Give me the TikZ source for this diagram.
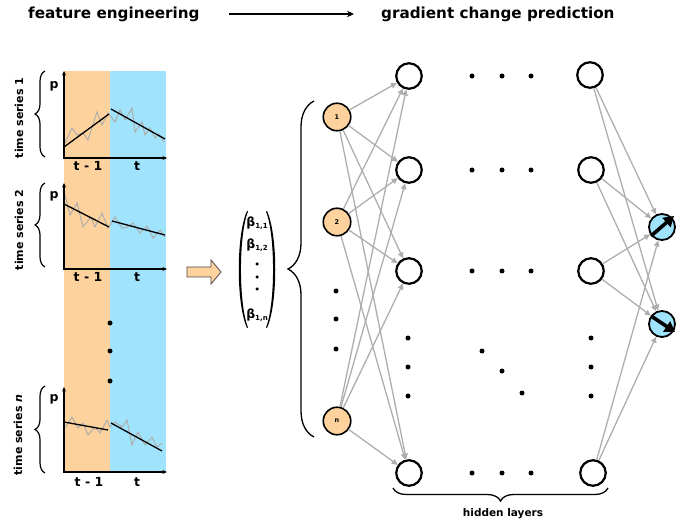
\documentclass[tikz,border=0pt]{standalone}
\usepackage{fontspec}
\setmainfont{DejaVu Sans}
\usetikzlibrary{arrows.meta,decorations.pathreplacing,calc}
\definecolor{bandorange}{HTML}{FDD29C}
\definecolor{bandblue}{HTML}{9FE3FC}
\definecolor{edgegray}{HTML}{AEAEAE}
\begin{document}
\begin{tikzpicture}[x=1pt,y=-1pt,
  every node/.style={font=\bfseries},
  inp/.style={circle,draw,line width=1.6pt,fill=bandorange,minimum size=27.5pt,inner sep=0pt,font=\bfseries\fontsize{6.5}{7}\selectfont},
  hid/.style={circle,draw,line width=2.2pt,fill=white,minimum size=25.5pt,inner sep=0pt},
  outn/.style={circle,draw,line width=1.8pt,fill=bandblue,minimum size=26pt,inner sep=0pt},
  edge/.style={draw=edgegray,line width=1.3pt,-{Triangle[length=6pt,width=5.5pt]}},
  axis/.style={line width=1.2pt,{Stealth[length=4.5pt,width=4pt]}-{Stealth[length=4.5pt,width=4pt]}},
  fitline/.style={line width=1.3pt},
  noise/.style={draw=edgegray,line width=1pt},
  bigdot/.style={circle,fill=black,inner sep=0pt,minimum size=5pt},
  tsbrace/.style={decorate,decoration={brace,amplitude=10pt},line width=1.2pt},
  tslabel/.style={rotate=90,font=\bfseries\fontsize{11}{13}\selectfont},
  plabel/.style={font=\bfseries\fontsize{12.5}{14}\selectfont},
  tlabel/.style={font=\bfseries\fontsize{12.5}{14}\selectfont},
  title/.style={anchor=west,inner sep=0pt,font=\bfseries\fontsize{15.2}{18}\selectfont},
  beta/.style={font=\bfseries\fontsize{12.5}{14}\selectfont},
]
\useasboundingbox (0,0) rectangle (688,521);
\newcommand{\bsub}[1]{\raisebox{-0.25ex}{\fontsize{7}{8}\selectfont #1}}

% titles
\node[title] (t1) at (28,14) {feature engineering};
\node[title] (t2) at (381,14) {gradient change prediction};
\draw[line width=1.4pt,-{Stealth[length=7pt,width=6.5pt]}] ([xshift=29pt]t1.east) -- ([xshift=-27pt]t2.west);

% bands
\fill[bandorange] (64,71) rectangle (110,472);
\fill[bandblue] (110,71) rectangle (166,472);

% series 1
\draw[noise] (65,143) -- (72,128) -- (77,135) -- (83,133) -- (88,140) -- (97,112) -- (102,125) -- (108,113) -- (115,122) -- (120,110) -- (125,120) -- (132,108) -- (135,132) -- (142,122) -- (145,135) -- (150,128) -- (155,138) -- (159,134) -- (164,142);
\draw[fitline] (64,147) -- (109,114);
\draw[fitline] (111,109) -- (165,139);
\draw[axis] (64,71) -- (64,158) -- (167,158);
\node[plabel] (p1) at (54,86) {p};
\node[tlabel] (a1l) at (88,166) {t - 1};
\node[tlabel] (a1r) at (137,166) {t};
\draw[tsbrace] (45,157) -- (45,71);
\node[tslabel] (ts1) at (19,118) {time series 1};

% series 2
\draw[noise] (65,195) -- (70,215) -- (77,203) -- (83,227) -- (91,217) -- (95,227) -- (102,213) -- (108,228) -- (115,217) -- (122,228) -- (128,227) -- (133,223) -- (140,233) -- (147,226) -- (153,238) -- (160,230) -- (165,237);
\draw[fitline] (64,204) -- (109,227);
\draw[fitline] (112,221) -- (165,235);
\draw[axis] (64,183) -- (64,269) -- (167,269);
\node[plabel] (p2) at (54,196) {p};
\node[tlabel] (a2l) at (88,277) {t - 1};
\node[tlabel] (a2r) at (137,277) {t};
\draw[tsbrace] (45,267) -- (45,183);
\node[tslabel] (ts2) at (19,230) {time series 2};

% dots between series
\node[bigdot] (ld1) at (110,323) {};
\node[bigdot] (ld2) at (110,351) {};
\node[bigdot] (ld3) at (110,381) {};

% series n
\draw[noise] (65,428) -- (72,417) -- (78,428) -- (83,423) -- (88,435) -- (95,427) -- (100,433) -- (107,420) -- (110,427) -- (115,422) -- (122,427) -- (127,420) -- (132,445) -- (138,432) -- (145,445) -- (152,437) -- (157,447) -- (162,443);
\draw[fitline] (64,422) -- (108,430);
\draw[fitline] (111,423) -- (162,451);
\draw[axis] (64,387) -- (64,472) -- (167,472);
\node[plabel] (pn) at (54,399) {p};
\node[tlabel] (anl) at (89,482) {t - 1};
\node[tlabel] (anr) at (137,482) {t};
\draw[tsbrace] (45,473) -- (45,386);
\node[tslabel] (tsn) at (18,435) {time series \textit{n}};

% block arrow
\draw[fill=bandorange,draw=black!70,line width=0.8pt] (187,267) -- (211,267) -- (211,260) -- (221,272) -- (211,284) -- (211,277) -- (187,277) -- cycle;

% vector
\node[beta] (b11) at (257,223) {β\bsub{1,1}};
\node[beta] (b12) at (257,245) {β\bsub{1,2}};
\node[bigdot,minimum size=3.5pt] (vd1) at (257,264) {};
\node[bigdot,minimum size=3.5pt] (vd2) at (257,277) {};
\node[bigdot,minimum size=3.5pt] (vd3) at (257,289) {};
\node[beta] (b1n) at (257,315) {β\bsub{1,n}};
\fill (247,211) .. controls (236,235) and (236,304) .. (247,328) -- (248,327.5) .. controls (238.6,304) and (238.6,235) .. (248,211.5) -- cycle;
\fill (267,211) .. controls (278,235) and (278,304) .. (267,328) -- (266,327.5) .. controls (275.4,304) and (275.4,235) .. (266,211.5) -- cycle;

% big brace
\draw[decorate,decoration={brace,amplitude=26pt},line width=1.3pt] (314,437) -- (314,101);

% input nodes
\node[inp] (i1) at (337,117) {1};
\node[inp] (i2) at (337,222) {2};
\node[inp] (in) at (337,421) {n};
\node[bigdot] (id1) at (336,291) {};
\node[bigdot] (id2) at (336,319) {};
\node[bigdot] (id3) at (336,349) {};

% hidden layer nodes
\node[hid] (a1) at (409,76) {};
\node[hid] (a2) at (409,170) {};
\node[hid] (a3) at (409,271) {};
\node[hid] (a4) at (409,473) {};
\node[hid] (b1) at (590,75) {};
\node[hid] (b2) at (591,170) {};
\node[hid] (b3) at (591,271) {};
\node[hid] (b4) at (593,473) {};

% hidden dots
\foreach \yy/\k in {76/1,170/2,271/3,473/4}{
  \node[bigdot] (hr\k a) at (472,\yy) {};
  \node[bigdot] (hr\k b) at (502,\yy) {};
  \node[bigdot] (hr\k c) at (531,\yy) {};
}
\node[bigdot] (va1) at (408,338) {};
\node[bigdot] (va2) at (408,367) {};
\node[bigdot] (va3) at (408,396) {};
\node[bigdot] (vb1) at (591,338) {};
\node[bigdot] (vb2) at (591,367) {};
\node[bigdot] (vb3) at (591,396) {};
\node[bigdot] (dd1) at (482,351) {};
\node[bigdot] (dd2) at (502,371) {};
\node[bigdot] (dd3) at (522,393) {};

% output nodes
\node[outn] (o1) at (662,227) {};
\node[outn] (o2) at (662,324) {};
\draw[line width=3.6pt,-{Triangle[length=10pt,width=12pt]}] ($(o1)+(-11,9)$) -- ($(o1)+(12,-11)$);
\draw[line width=3.6pt,-{Triangle[length=10pt,width=12pt]}] ($(o2)+(-11,-8)$) -- ($(o2)+(13,8)$);

% edges
\foreach \s in {i1,i2,in}{
  \foreach \t in {a1,a2,a3,a4}{
    \draw[edge] (\s) -- (\t);
  }
}
\foreach \s in {b1,b2,b3,b4}{
  \foreach \t in {o1,o2}{
    \draw[edge] (\s) -- (\t);
  }
}

% hidden layers brace
\draw[decorate,decoration={brace,amplitude=13pt},line width=1.3pt] (608,488) -- (393,488);
\node[font=\bfseries\fontsize{10.5}{12}\selectfont] (hl) at (503,514) {hidden layers};
\end{tikzpicture}
\end{document}
